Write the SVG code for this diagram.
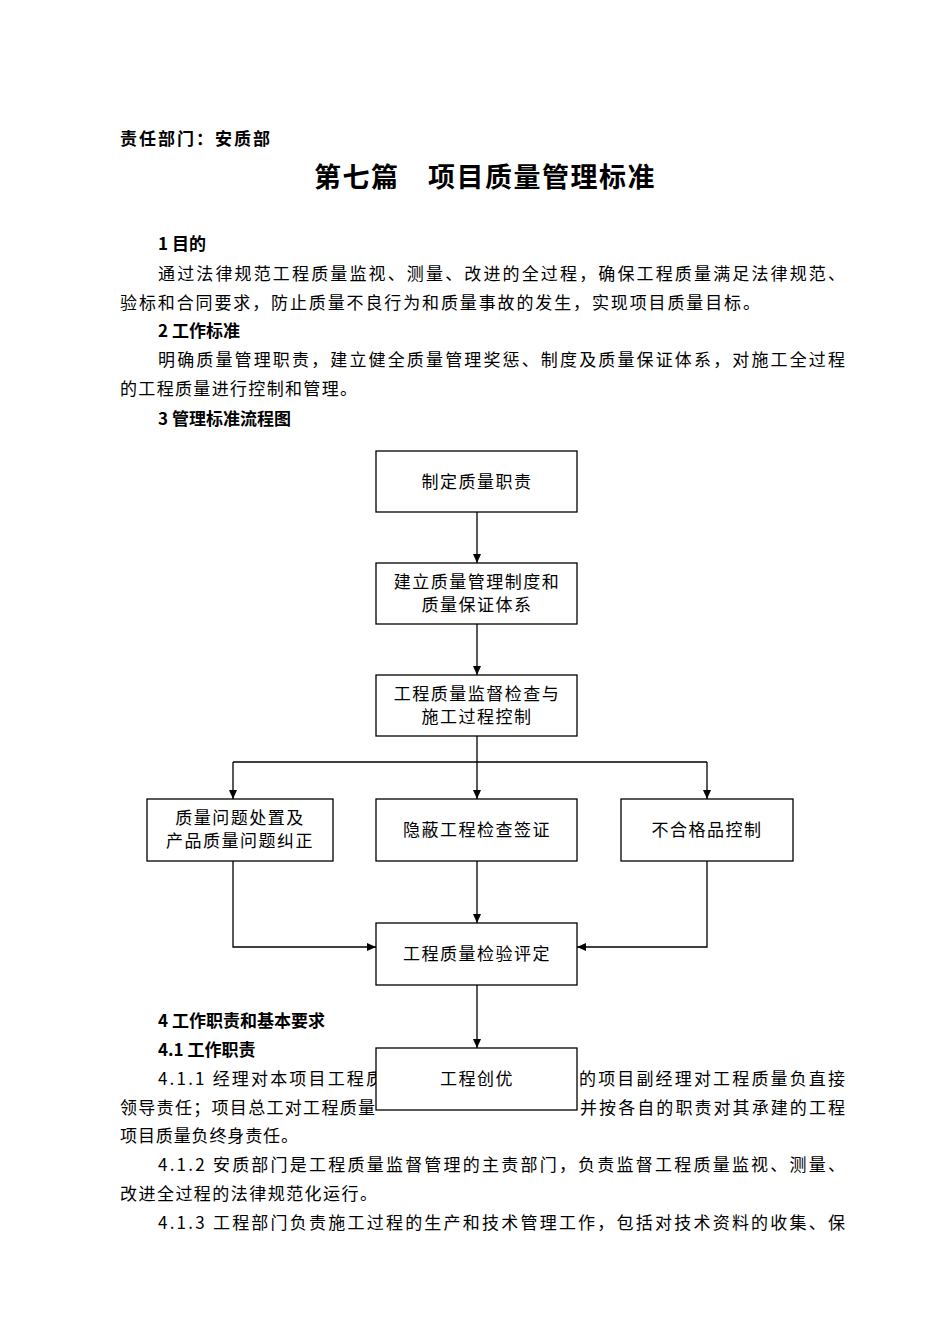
<svg xmlns="http://www.w3.org/2000/svg" width="950" height="1344" viewBox="0 0 950 1344">
<style>
text{font-family:"Noto Sans CJK SC","Liberation Serif",serif;fill:#000}
.b{font-size:17px;font-weight:bold}
.t{font-size:17px}
.n{font-size:17px;text-anchor:middle;letter-spacing:1.5px}
.h{font-size:27px;font-weight:bold;text-anchor:middle;letter-spacing:1.5px}
rect{fill:#fff;stroke:#000;stroke-width:1.3}
.c line,.c polyline{stroke:#000;stroke-width:1.3;fill:none}
</style>
<defs><marker id="a" markerWidth="10" markerHeight="10" refX="9" refY="5" orient="auto" markerUnits="userSpaceOnUse"><path d="M0,1 L9,5 L0,9 z" fill="#000"/></marker></defs>
<rect width="950" height="1344" style="stroke:none"/>
<text class="b" x="120" y="145" textLength="150" lengthAdjust="spacing">责任部门：安质部</text>
<text class="h" x="485" y="187">第七篇　项目质量管理标准</text>
<text class="b" x="158" y="250">1  目的</text>
<text class="t" x="158" y="280" textLength="687" lengthAdjust="spacing">通过法律规范工程质量监视、测量、改进的全过程，确保工程质量满足法律规范、</text>
<text class="t" x="120" y="309" textLength="640" lengthAdjust="spacing">验标和合同要求，防止质量不良行为和质量事故的发生，实现项目质量目标。</text>
<text class="b" x="158" y="337">2  工作标准</text>
<text class="t" x="158" y="366" textLength="687" lengthAdjust="spacing">明确质量管理职责，建立健全质量管理奖惩、制度及质量保证体系，对施工全过程</text>
<text class="t" x="120" y="395" textLength="237" lengthAdjust="spacing">的工程质量进行控制和管理。</text>
<text class="b" x="158" y="425">3  管理标准流程图</text>
<text class="b" x="158" y="1027">4  工作职责和基本要求</text>
<text class="b" x="158" y="1056">4.1  工作职责</text>
<text class="t" x="158" y="1085" textLength="225" lengthAdjust="spacing">4.1.1 经理对本项目工程质</text>
<text class="t" x="579" y="1085" textLength="266" lengthAdjust="spacing">的项目副经理对工程质量负直接</text>
<text class="t" x="120" y="1114" textLength="255" lengthAdjust="spacing">领导责任；项目总工对工程质量</text>
<text class="t" x="580" y="1114" textLength="265" lengthAdjust="spacing">并按各自的职责对其承建的工程</text>
<text class="t" x="120" y="1142" textLength="178" lengthAdjust="spacing">项目质量负终身责任。</text>
<text class="t" x="158" y="1171" textLength="687" lengthAdjust="spacing">4.1.2 安质部门是工程质量监督管理的主责部门，负责监督工程质量监视、测量、</text>
<text class="t" x="120" y="1200" textLength="257" lengthAdjust="spacing">改进全过程的法律规范化运行。</text>
<text class="t" x="158" y="1229" textLength="687" lengthAdjust="spacing">4.1.3 工程部门负责施工过程的生产和技术管理工作，包括对技术资料的收集、保</text>
<g class="c" id="connectors">
<line x1="477" y1="512" x2="477" y2="563" marker-end="url(#a)"/>
<line x1="477" y1="624" x2="477" y2="675" marker-end="url(#a)"/>
<line x1="477" y1="736" x2="477" y2="799" marker-end="url(#a)"/>
<line x1="233" y1="762" x2="707" y2="762"/>
<line x1="233" y1="762" x2="233" y2="799" marker-end="url(#a)"/>
<line x1="707" y1="762" x2="707" y2="799" marker-end="url(#a)"/>
<line x1="477" y1="861" x2="477" y2="923" marker-end="url(#a)"/>
<polyline points="233,861 233,947 376,947" marker-end="url(#a)"/>
<polyline points="707,861 707,947 577,947" marker-end="url(#a)"/>
<line x1="477" y1="985" x2="477" y2="1048" marker-end="url(#a)"/>
</g>
<g id="n1"><rect x="376" y="451" width="201" height="61"/><text class="n" x="477" y="488">制定质量职责</text></g>
<g id="n2"><rect x="376" y="563" width="201" height="61"/><text class="n" x="477" y="588">建立质量管理制度和</text><text class="n" x="477" y="611">质量保证体系</text></g>
<g id="n3"><rect x="376" y="675" width="201" height="61"/><text class="n" x="477" y="700">工程质量监督检查与</text><text class="n" x="477" y="723">施工过程控制</text></g>
<g id="n4"><rect x="147" y="799" width="186" height="62"/><text class="n" x="240" y="824">质量问题处置及</text><text class="n" x="240" y="847">产品质量问题纠正</text></g>
<g id="n5"><rect x="376" y="799" width="201" height="62"/><text class="n" x="477" y="836">隐蔽工程检查签证</text></g>
<g id="n6"><rect x="621" y="799" width="172" height="62"/><text class="n" x="707" y="836">不合格品控制</text></g>
<g id="n7"><rect x="376" y="923" width="201" height="62"/><text class="n" x="477" y="960">工程质量检验评定</text></g>
<g id="n8"><rect x="376" y="1048" width="201" height="62"/><text class="n" x="477" y="1085">工程创优</text></g>
</svg>
